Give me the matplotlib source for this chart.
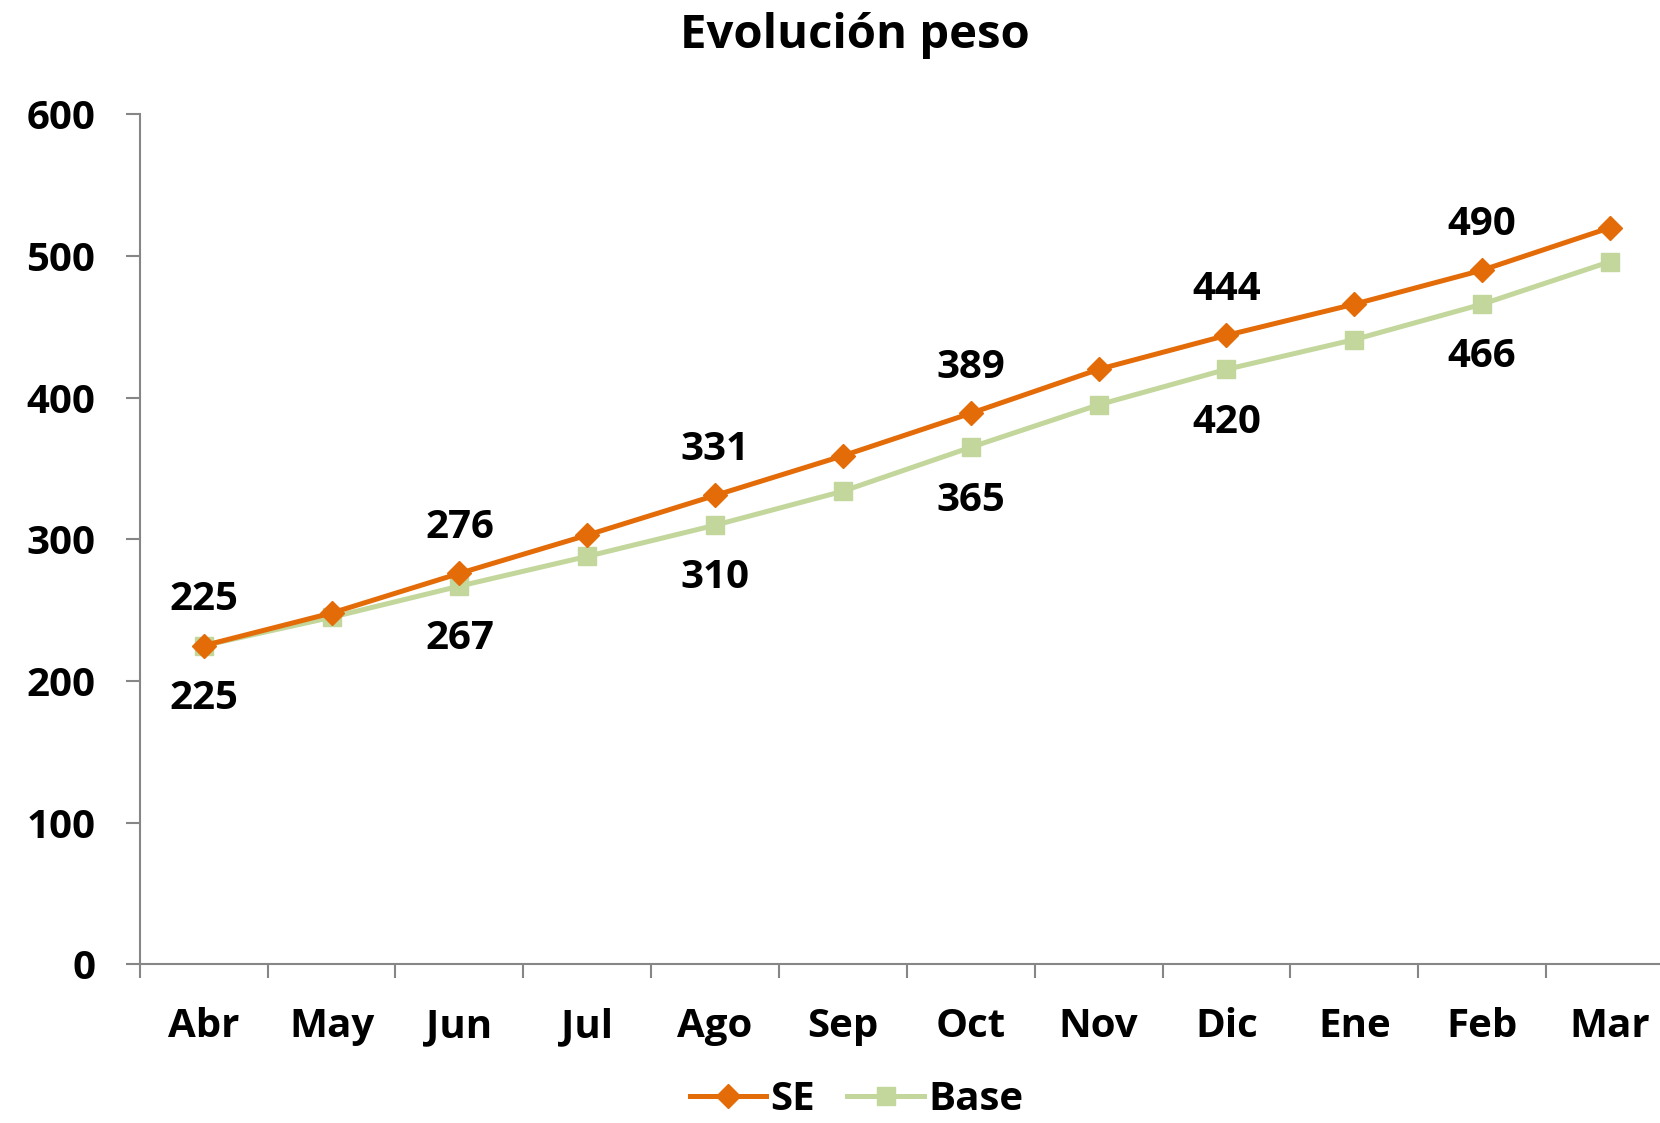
import numpy as np
import matplotlib.pyplot as plt
from matplotlib import rcParams

rcParams.update({"font.family": ["Open Sans", "DejaVu Sans"], "font.weight": "bold"})

meses = ['Abr', 'May', 'Jun', 'Jul', 'Ago', 'Sep', 'Oct', 'Nov', 'Dic', 'Ene', 'Feb', 'Mar']
se = [225, 248, 276, 303, 331, 359, 389, 420, 444, 466, 490, 520]
base = [225, 245, 267, 288, 310, 334, 365, 395, 420, 441, 466, 496]
etiquetas = [0, 2, 4, 6, 8, 10]  # meses con valor rotulado

naranja = '#E36C09'
verde = '#C3D69B'
gris = '#868686'
fs = 29

fig = plt.figure(figsize=(16.6, 11.23), dpi=100)
ax = fig.add_axes([0.0842, 0.1412, 0.9242, 0.7570])
x = np.arange(len(meses))

ax.plot(x, se, color=naranja, linewidth=3.6, marker='D', markersize=12, label='SE', zorder=3)
ax.plot(x, base, color=verde, linewidth=3.6, marker='s', markersize=13.5, label='Base', zorder=2)

for i in etiquetas:
    ax.annotate(str(se[i]), (x[i], se[i]), xytext=(0, 33), textcoords='offset points',
                ha='center', va='center', fontsize=fs, fontweight='bold')
    ax.annotate(str(base[i]), (x[i], base[i]), xytext=(0, -38), textcoords='offset points',
                ha='center', va='center', fontsize=fs, fontweight='bold')

ax.set_xlim(-0.5, 11.5)
ax.set_ylim(0, 600)
ax.set_yticks(range(0, 601, 100))
ax.set_xticks(x)
ax.set_xticklabels(meses)
ax.set_xticks(np.arange(-0.5, 12, 1), minor=True)

for s in ['top', 'right']:
    ax.spines[s].set_visible(False)
for s in ['left', 'bottom']:
    ax.spines[s].set_color(gris)
    ax.spines[s].set_linewidth(1.5)

ax.tick_params(axis='y', length=10, width=1.5, color=gris, pad=22, labelsize=fs)
ax.tick_params(axis='x', which='major', length=0, pad=31, labelsize=fs)
ax.tick_params(axis='x', which='minor', length=10, width=1.5, color=gris)
for t in ax.get_xticklabels() + ax.get_yticklabels():
    t.set_fontweight('bold')

fig.text(0.515, 0.968, 'Evolución peso', ha='center', va='center', fontsize=34, fontweight='bold')

fig.legend(loc='center', bbox_to_anchor=(0.516, 0.021), ncol=2, frameon=False,
           prop={'family': 'Open Sans', 'weight': 'bold', 'size': fs},
           handlelength=1.9, handletextpad=0.1, columnspacing=0.8)

fig.savefig('out.png', dpi=100)
